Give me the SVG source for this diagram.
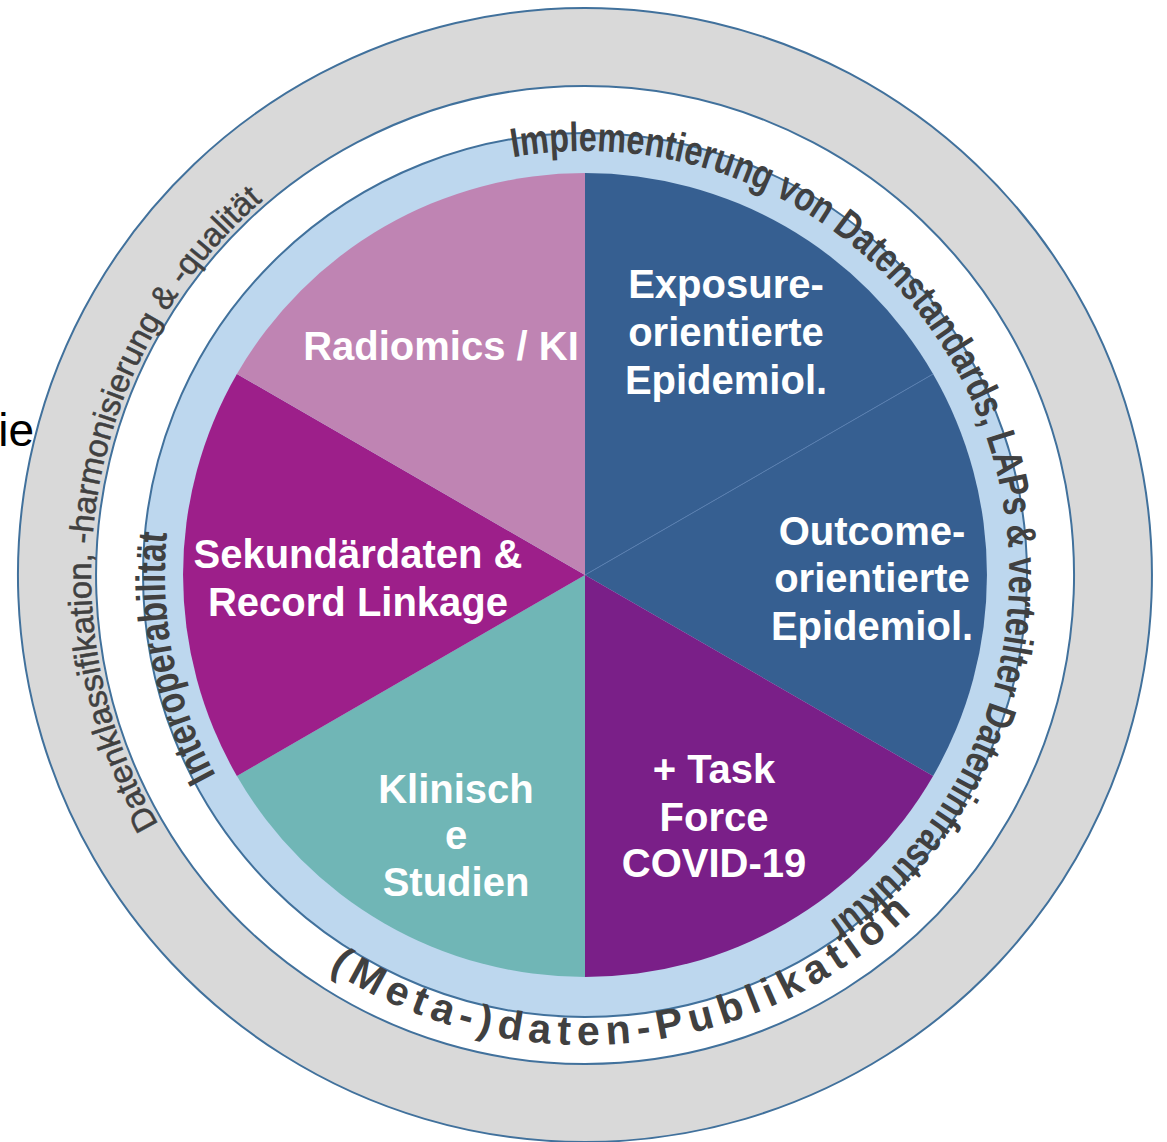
<svg xmlns="http://www.w3.org/2000/svg" width="1167" height="1142" viewBox="0 0 1167 1142">
  <style>
    .ring-line { stroke: #41719c; stroke-width: 2; }
    .slice-label { font-family: "Liberation Sans", Arial, sans-serif; font-weight: bold; font-size: 40px; fill: #ffffff; text-anchor: middle; }
    .arc-bold { font-family: "Liberation Sans", Arial, sans-serif; font-weight: bold; font-size: 41px; fill: #404040; }
    .arc-reg { font-family: "Liberation Sans", Arial, sans-serif; font-weight: normal; font-size: 33px; fill: #404040; stroke: #404040; stroke-width: 0.5; }
    .side { font-family: "Liberation Sans", Arial, sans-serif; font-size: 46px; fill: #000000; }
  </style>
  <defs>
    <path id="p-impl" d="M512.8,157.2 A424,424 0 0 1 830.2,921" fill="none"/>
    <path id="p-inter" d="M215.9,775.4 A420,420 0 0 1 167.1,532.5" fill="none"/>
    <path id="p-daten" d="M158.5,824.2 A494,494 0 0 1 262.9,200.5" fill="none"/>
    <path id="p-meta" d="M329,969.2 A470,470 0 0 0 911.5,913.1" fill="none"/>
  </defs>
  <rect width="1167" height="1142" fill="#ffffff"/>

  <text class="side" x="34" y="446" text-anchor="end">ie</text>

  <g id="outer-ring">
    <path d="M585,8 A567,567 0 1 1 584.9,8 Z M585,86 A489,489 0 1 0 585.1,86 Z" fill="#d9d9d9" fill-rule="evenodd" class="ring-line"/>
    <text class="arc-reg"><textPath href="#p-daten" textLength="686" lengthAdjust="spacing">Datenklassifikation, -harmonisierung &amp; -qualität</textPath></text>
  </g>

  <g id="inner-ring">
    <circle cx="585" cy="575" r="442" fill="#bdd7ee" class="ring-line"/>
  </g>

  <g id="slice-exposure">
    <path d="M585,575 L585,173 A402,402 0 0 1 933.1,374 Z" fill="#365f91"/>
    <text class="slice-label" x="726" y="298">Exposure-</text>
    <text class="slice-label" x="726" y="346">orientierte</text>
    <text class="slice-label" x="726" y="394">Epidemiol.</text>
  </g>
  <g id="slice-outcome">
    <path d="M585,575 L933.1,374 A402,402 0 0 1 933.1,776 Z" fill="#365f91"/>
    <line x1="585" y1="575" x2="933.1" y2="374" stroke="#5a7fb0" stroke-width="1"/>
    <text class="slice-label" x="872" y="545">Outcome-</text>
    <text class="slice-label" x="872" y="592">orientierte</text>
    <text class="slice-label" x="872" y="640">Epidemiol.</text>
  </g>
  <g id="slice-taskforce">
    <path d="M585,575 L933.1,776 A402,402 0 0 1 585,977 Z" fill="#7a1f88"/>
    <text class="slice-label" x="714" y="783">+ Task</text>
    <text class="slice-label" x="714" y="831">Force</text>
    <text class="slice-label" x="714" y="877">COVID-19</text>
  </g>
  <g id="slice-klinische">
    <path d="M585,575 L585,977 A402,402 0 0 1 236.9,776 Z" fill="#70b6b6"/>
    <text class="slice-label" x="456" y="803">Klinisch</text>
    <text class="slice-label" x="456" y="849">e</text>
    <text class="slice-label" x="456" y="896">Studien</text>
  </g>
  <g id="slice-sekundaer">
    <path d="M585,575 L236.9,776 A402,402 0 0 1 236.9,374 Z" fill="#9d1f8a"/>
    <text class="slice-label" x="358" y="568">Sekundärdaten &amp;</text>
    <text class="slice-label" x="358" y="616">Record Linkage</text>
  </g>
  <g id="slice-radiomics">
    <path d="M585,575 L236.9,374 A402,402 0 0 1 585,173 Z" fill="#bf84b3"/>
    <text class="slice-label" x="441" y="360">Radiomics / KI</text>
  </g>

  <g id="label-implementierung">
    <text class="arc-bold"><textPath href="#p-impl" textLength="1148" lengthAdjust="spacingAndGlyphs">Implementierung von Datenstandards, LAPs &amp; verteilter Dateninfrastruktur</textPath></text>
  </g>
  <g id="label-interoperabilitaet">
    <text class="arc-bold"><textPath href="#p-inter" textLength="251" lengthAdjust="spacingAndGlyphs">Interoperabilität</textPath></text>
  </g>
  <g id="label-publikation">
    <text class="arc-bold" font-size="40"><textPath href="#p-meta" textLength="632" lengthAdjust="spacing">(Meta-)daten-Publikation</textPath></text>
  </g>

  <g id="connectors"/>
</svg>
